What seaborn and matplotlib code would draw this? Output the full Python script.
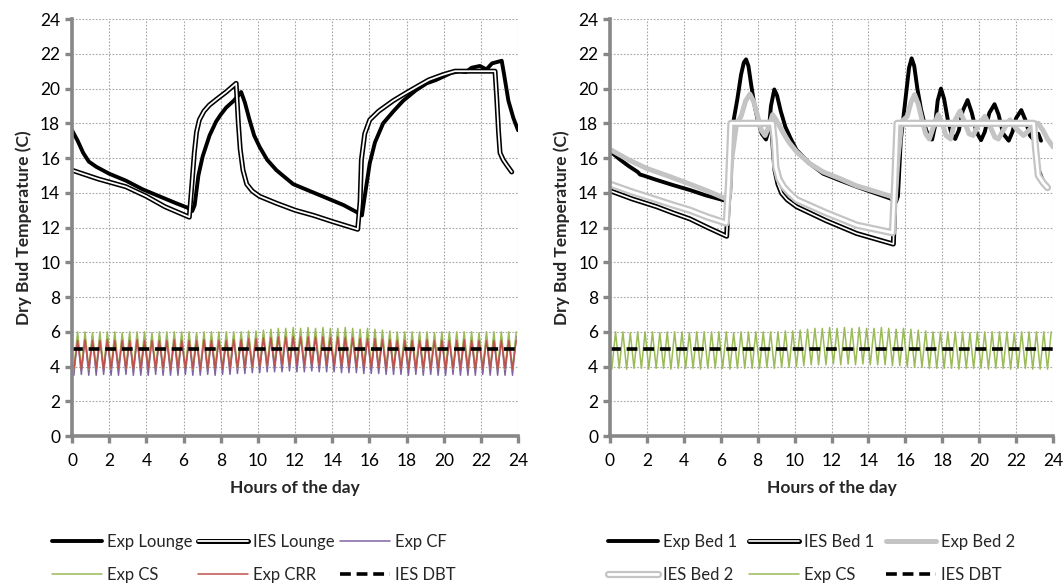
import numpy as np
import seaborn as sns
import matplotlib.pyplot as plt
import matplotlib.patheffects as pe

# ---- left panel: lounge ----
lounge_exp_h = [0, 0.3, 0.6, 0.9, 1.3, 2.0, 2.9, 3.8, 4.7, 5.6, 6.2, 6.47, 6.6, 6.8, 7.03, 7.4,
                7.75, 8.0, 8.29, 8.7, 8.95, 9.1, 9.3, 9.55, 9.8, 10.09, 10.5, 11.0, 11.9, 12.8,
                13.7, 14.6, 15.3, 15.6, 15.75, 16.02, 16.3, 16.74, 17.3, 17.82, 18.5, 19.08,
                19.6, 20.0, 20.4, 20.87, 21.2, 21.5, 21.95, 22.3, 22.6, 23.12, 23.25, 23.48,
                23.75, 24]
lounge_exp_t = [17.6, 17.0, 16.3, 15.8, 15.5, 15.1, 14.7, 14.2, 13.8, 13.4, 13.15, 12.95, 13.3,
                15.0, 16.1, 17.3, 18.1, 18.5, 18.9, 19.3, 19.6, 19.8, 19.2, 18.2, 17.3, 16.65,
                15.9, 15.3, 14.5, 14.1, 13.7, 13.3, 12.9, 12.7, 13.8, 15.7, 16.9, 18.0, 18.7,
                19.3, 19.9, 20.3, 20.5, 20.7, 20.9, 21.0, 20.95, 21.2, 21.3, 21.1, 21.45, 21.6,
                20.8, 19.3, 18.3, 17.6]

lounge_ies_h = [0, 1.4, 2.9, 4.0, 5.0, 6.31, 6.45, 6.58, 6.7, 6.85, 7.1, 7.39, 7.8, 8.29, 8.83,
                8.95, 9.05, 9.2, 9.4, 9.7, 10.09, 11.0, 12.0, 13.0, 14.0, 15.37, 15.5, 15.57,
                15.75, 16.02, 16.5, 17.28, 17.9, 18.54, 19.2, 19.96, 20.6, 22.76, 22.85, 22.95,
                23.03, 23.2, 23.39, 23.66]
lounge_ies_t = [15.3, 14.8, 14.35, 13.8, 13.2, 12.6, 14.5, 16.3, 17.5, 18.2, 18.7, 19.05, 19.4,
                19.8, 20.3, 18.0, 16.5, 15.3, 14.5, 14.1, 13.8, 13.4, 13.0, 12.7, 12.35, 11.9,
                13.5, 15.9, 17.4, 18.2, 18.7, 19.3, 19.7, 20.1, 20.5, 20.8, 21.0, 21.0, 19.5,
                17.5, 16.3, 15.9, 15.6, 15.2]

# ---- right panel: bedrooms ----
bed1_exp_h = [0, 0.5, 1.0, 1.5, 1.63, 1.8, 2.5, 3.4, 4.33, 5.2, 6.14, 6.4, 6.5, 6.6, 6.7, 6.9,
              7.1, 7.25, 7.37, 7.5, 7.65, 7.8, 8.0, 8.22, 8.45, 8.6, 8.72, 8.9, 9.05, 9.25, 9.5,
              9.8, 10.11, 10.8, 11.55, 12.5, 13.36, 14.3, 15.17, 15.5, 15.6, 15.75, 15.89,
              16.05, 16.2, 16.34, 16.48, 16.65, 16.85, 17.1, 17.3, 17.45, 17.6, 17.75, 17.93,
              18.1, 18.3, 18.5, 18.7, 18.9, 19.1, 19.37, 19.6, 19.85, 20.1, 20.3, 20.55, 20.83,
              21.05, 21.3, 21.6, 21.8, 22.0, 22.28, 22.5, 22.75, 23.0, 23.2, 23.35]
bed1_exp_t = [16.4, 15.95, 15.55, 15.2, 15.05, 15.0, 14.75, 14.45, 14.16, 13.85, 13.58, 13.5,
              13.8, 16.5, 18.2, 19.4, 20.8, 21.5, 21.68, 21.3, 20.2, 19.2, 18.2, 17.4, 17.07,
              17.6, 19.0, 19.95, 19.6, 18.7, 17.8, 17.1, 16.46, 15.7, 15.1, 14.7, 14.35, 14.0,
              13.68, 13.5, 13.8, 17.0, 18.3, 19.8, 21.2, 21.74, 21.3, 20.0, 18.8, 17.7, 17.1,
              17.07, 17.8, 19.3, 20.0, 19.4, 18.2, 17.4, 17.1, 17.6, 18.7, 19.34, 18.6, 17.5,
              17.03, 17.5, 18.6, 19.1, 18.5, 17.4, 17.0, 17.5, 18.3, 18.76, 18.2, 17.3, 17.0,
              17.4, 17.0]

bed1_ies_h = [0, 1.2, 2.53, 3.4, 4.33, 5.3, 6.32, 6.45, 6.59, 8.76, 8.85, 8.94, 9.1, 9.3, 9.6,
              10.11, 11.7, 13.36, 15.35, 15.45, 15.55, 22.93, 23.05, 23.2, 23.45, 23.7]
bed1_ies_t = [14.12, 13.65, 13.2, 12.85, 12.5, 12.0, 11.5, 14.5, 18.0, 18.0, 16.5, 15.3, 14.5,
              13.97, 13.6, 13.2, 12.4, 11.66, 11.05, 14.5, 18.0, 18.0, 16.5, 15.3, 14.6, 14.3]

bed2_exp_h = [0, 1.0, 2.0, 3.2, 4.33, 5.3, 6.3, 6.45, 6.6, 6.86, 7.1, 7.35, 7.58, 7.8, 8.0, 8.2,
              8.4, 8.6, 8.81, 9.0, 9.3, 9.7, 10.11, 10.8, 11.55, 12.5, 13.36, 14.3, 15.2, 15.45,
              15.6, 15.8, 16.1, 16.3, 16.5, 16.7, 16.9, 17.1, 17.3, 17.55, 17.78, 18.0, 18.2,
              18.45, 18.7, 18.96, 19.2, 19.45, 19.67, 19.95, 20.31, 20.6, 20.85, 21.04, 21.35,
              21.67, 22.0, 22.4, 22.7, 23.0, 23.2, 23.45, 23.7, 24]
bed2_exp_t = [16.5, 15.9, 15.4, 14.95, 14.5, 14.1, 13.65, 13.6, 16.0, 18.0, 18.4, 19.3, 19.68,
              19.2, 18.4, 17.6, 17.3, 17.8, 18.5, 18.2, 17.6, 16.9, 16.36, 15.7, 15.2, 14.8,
              14.4, 14.1, 13.8, 13.6, 16.0, 18.1, 18.4, 19.2, 19.65, 19.1, 18.2, 17.4, 17.1,
              17.9, 18.5, 18.0, 17.3, 17.1, 18.2, 18.7, 18.1, 17.4, 17.3, 17.9, 18.4, 17.8,
              17.2, 17.1, 17.7, 18.2, 17.7, 17.3, 17.6, 18.0, 18.0, 17.6, 17.1, 16.65]

bed2_ies_h = [0, 1.2, 2.53, 3.4, 4.33, 5.3, 6.3, 6.42, 6.55, 8.8, 8.9, 8.98, 9.15, 9.4, 9.7,
              10.11, 11.7, 13.36, 15.3, 15.42, 15.55, 22.95, 23.05, 23.2, 23.45, 23.7]
bed2_ies_t = [14.5, 14.05, 13.6, 13.3, 13.0, 12.6, 12.26, 14.5, 18.0, 18.0, 17.0, 15.5, 14.8,
              14.35, 14.0, 13.6, 12.85, 12.14, 11.7, 14.5, 18.0, 18.0, 16.6, 15.0, 14.6, 14.3]

# ---- outdoor / cavity oscillations (trough, peak pairs per cycle) ----
cs_trough = [3.85, 3.9, 3.85, 3.9, 3.9, 3.85, 3.9, 3.9, 3.85, 3.9, 3.9, 3.9, 3.85, 3.9, 3.9,
             3.9, 3.85, 3.9, 3.9, 3.9, 3.9, 3.95, 3.9, 3.95, 3.95, 4.0, 4.05, 4.1, 4.1, 4.1,
             4.15, 4.1, 4.15, 4.1, 4.15, 4.1, 4.1, 4.1, 4.05, 4.05, 4.0, 3.95, 3.95, 3.9, 3.9,
             3.9, 3.9, 3.85, 3.9, 3.9, 3.9, 3.85, 3.9, 3.9, 3.85, 3.9, 3.9, 3.85, 3.85, 3.85]
cs_peak = [6.0, 6.0, 5.95, 6.0, 6.0, 6.0, 5.95, 6.0, 6.0, 6.0, 5.95, 6.0, 6.0, 6.0, 6.0, 6.0,
           5.95, 6.0, 6.0, 6.0, 6.0, 6.0, 6.0, 6.05, 6.05, 6.1, 6.15, 6.2, 6.2, 6.25, 6.2,
           6.25, 6.2, 6.25, 6.2, 6.2, 6.25, 6.2, 6.15, 6.2, 6.15, 6.1, 6.05, 6.0, 6.0, 6.0,
           6.0, 6.0, 5.95, 6.0, 6.0, 6.0, 6.0, 6.0, 5.95, 6.0, 6.0, 6.0, 6.0, 6.0]
crr_trough = [3.9, 3.85, 3.9, 3.9, 3.85, 3.9, 3.9, 3.9, 3.85, 3.9, 3.9, 3.9, 3.9, 3.85, 3.9,
              3.9, 3.9, 3.85, 3.9, 3.9, 3.9, 3.9, 3.95, 3.95, 4.0, 4.0, 4.05, 4.05, 4.1, 4.1,
              4.1, 4.1, 4.1, 4.05, 4.1, 4.05, 4.05, 4.0, 4.0, 4.0, 3.95, 3.95, 3.9, 3.9, 3.9,
              3.9, 3.85, 3.9, 3.9, 3.9, 3.85, 3.9, 3.9, 3.9, 3.85, 3.9, 3.9, 3.85, 3.9, 3.85]
crr_peak = [5.5, 5.55, 5.5, 5.5, 5.55, 5.5, 5.5, 5.5, 5.55, 5.5, 5.5, 5.5, 5.5, 5.55, 5.5, 5.5,
            5.5, 5.55, 5.5, 5.5, 5.5, 5.55, 5.55, 5.6, 5.6, 5.65, 5.65, 5.7, 5.7, 5.7, 5.7, 5.7,
            5.7, 5.7, 5.65, 5.7, 5.65, 5.65, 5.6, 5.6, 5.6, 5.55, 5.55, 5.5, 5.5, 5.5, 5.5,
            5.55, 5.5, 5.5, 5.5, 5.5, 5.55, 5.5, 5.5, 5.5, 5.5, 5.5, 5.5, 5.5]
cf_trough = [3.5, 3.55, 3.5, 3.5, 3.55, 3.5, 3.5, 3.55, 3.5, 3.5, 3.5, 3.55, 3.5, 3.5, 3.5,
             3.55, 3.5, 3.5, 3.55, 3.5, 3.55, 3.55, 3.6, 3.6, 3.65, 3.65, 3.7, 3.7, 3.7, 3.75,
             3.7, 3.7, 3.75, 3.7, 3.7, 3.7, 3.65, 3.65, 3.65, 3.6, 3.6, 3.6, 3.55, 3.55, 3.55,
             3.5, 3.55, 3.5, 3.55, 3.5, 3.5, 3.55, 3.5, 3.5, 3.5, 3.55, 3.5, 3.5, 3.5, 3.5]
cf_peak = [5.7, 5.7, 5.75, 5.7, 5.7, 5.7, 5.75, 5.7, 5.7, 5.7, 5.7, 5.75, 5.7, 5.7, 5.7, 5.7,
           5.75, 5.7, 5.7, 5.7, 5.7, 5.75, 5.75, 5.8, 5.8, 5.85, 5.85, 5.9, 5.9, 5.9, 5.9, 5.9,
           5.9, 5.9, 5.85, 5.9, 5.85, 5.85, 5.8, 5.8, 5.8, 5.75, 5.75, 5.7, 5.7, 5.7, 5.7, 5.7,
           5.7, 5.75, 5.7, 5.7, 5.7, 5.7, 5.75, 5.7, 5.7, 5.7, 5.7, 5.75]
dbt_h = [0, 24]
dbt_t = [5.0, 5.0]

ticks = list(range(0, 25, 2))

# sample hours of the oscillating logs: one trough and one peak every 0.4 h
osc_h = np.arange(120) * 0.2 + 0.1


def zigzag(troughs, peaks):
    return np.column_stack([troughs, peaks]).ravel()


def row_order(handles, labels):
    # legend fills columns first; reorder so the entries read across rows
    idx = [0, 3, 1, 4, 2, 5]
    return [handles[i] for i in idx], [labels[i] for i in idx]


sns.set_style("white")
plt.rcParams['font.family'] = ['Lato', 'DejaVu Sans']

fig = plt.figure(figsize=(10.64, 5.83), dpi=100)
ax1 = fig.add_axes([0.0677, 0.252, 0.4192, 0.7153])
ax2 = fig.add_axes([0.5733, 0.252, 0.4164, 0.7153])

edge = pe.Stroke(linewidth=3.6, foreground='black')
edge_grey = pe.Stroke(linewidth=5.2, foreground='#c4c4c4')
dash = (0, (3, 1.6))

# left panel
sns.lineplot(x=lounge_exp_h, y=lounge_exp_t, ax=ax1, color='black', lw=2.8, label='Exp Lounge')
sns.lineplot(x=lounge_ies_h, y=lounge_ies_t, ax=ax1, color='white', lw=1.3, label='IES Lounge',
             path_effects=[edge, pe.Normal()])
sns.lineplot(x=osc_h, y=zigzag(cf_trough, cf_peak), ax=ax1, color='#8064a2', lw=1.1, label='Exp CF')
sns.lineplot(x=osc_h, y=zigzag(cs_trough, cs_peak), ax=ax1, color='#9bbb59', lw=1.1, label='Exp CS')
sns.lineplot(x=osc_h, y=zigzag(crr_trough, crr_peak), ax=ax1, color='#c0504d', lw=1.1, label='Exp CRR')
sns.lineplot(x=dbt_h, y=dbt_t, ax=ax1, color='black', lw=2.6, ls=dash, label='IES DBT')

# right panel
sns.lineplot(x=bed1_exp_h, y=bed1_exp_t, ax=ax2, color='black', lw=2.8, label='Exp Bed 1')
sns.lineplot(x=bed1_ies_h, y=bed1_ies_t, ax=ax2, color='white', lw=1.2, label='IES Bed 1',
             path_effects=[edge, pe.Normal()])
sns.lineplot(x=bed2_exp_h, y=bed2_exp_t, ax=ax2, color='#c4c4c4', lw=3.6, label='Exp Bed 2')
sns.lineplot(x=bed2_ies_h, y=bed2_ies_t, ax=ax2, color='white', lw=2.0, label='IES Bed 2',
             path_effects=[edge_grey, pe.Normal()])
sns.lineplot(x=osc_h, y=zigzag(cs_trough, cs_peak), ax=ax2, color='#9bbb59', lw=1.1, label='Exp CS')
sns.lineplot(x=dbt_h, y=dbt_t, ax=ax2, color='black', lw=2.6, ls=dash, label='IES DBT')

for ax in (ax1, ax2):
    ax.set_xlim(0, 24)
    ax.set_ylim(0, 24)
    ax.set_xticks(ticks)
    ax.set_yticks(ticks)
    ax.grid(True, color='#a6a6a6', ls=(0, (1.5, 1.5)), lw=0.8)
    for s in ('top', 'right'):
        ax.spines[s].set_visible(False)
    for s in ('left', 'bottom'):
        ax.spines[s].set_color('#878787')
        ax.spines[s].set_linewidth(2.6)
    ax.tick_params(axis='both', colors='#878787', width=2.4, length=5, direction='out',
                   labelcolor='black', labelsize=12.5, left=True, bottom=True)
    ax.tick_params(axis='x', pad=7)
    ax.set_xlabel('Hours of the day', fontsize=12.5, fontweight='bold', labelpad=8)
    ax.set_ylabel('Dry Bud Temperature (C)', fontsize=12.5, fontweight='bold', labelpad=6)
    ax.get_legend().remove()

leg_kw = dict(ncol=3, frameon=False, fontsize=12, handlelength=3.0, handletextpad=0.3,
              labelspacing=1.0, loc='upper left', borderaxespad=0)
h1, l1 = row_order(*ax1.get_legend_handles_labels())
fig.legend(h1, l1, bbox_to_anchor=(0.043, 0.095), columnspacing=0.3, **leg_kw)
h2, l2 = row_order(*ax2.get_legend_handles_labels())
fig.legend(h2, l2, bbox_to_anchor=(0.565, 0.095), columnspacing=0.7, **leg_kw)

plt.savefig('out.png', dpi=100)
